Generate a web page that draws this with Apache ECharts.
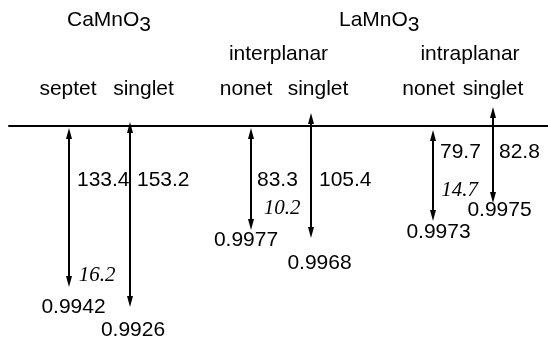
<!DOCTYPE html>
<html>
<head>
<meta charset="utf-8">
<script src="https://cdn.jsdelivr.net/npm/echarts@6/dist/echarts.min.js"></script>
<style>
html,body{margin:0;padding:0;background:#fff;}
#mychart{width:548px;height:339px;}
</style>
</head>
<body>
<div id="mychart"></div>
<script>
// levels, left to right: CaMnO3 | LaMnO3 interplanar | LaMnO3 intraplanar
var compounds = ['CaMnO', 'LaMnO'];
var planes = ['interplanar', 'intraplanar'];
var levelNames = ['septet', 'singlet', 'nonet', 'singlet', 'nonet', 'singlet'];
var energies = [133.4, 153.2, 83.3, 105.4, 79.7, 82.8];
var overlaps = ['0.9942', '0.9926', '0.9977', '0.9968', '0.9973', '0.9975'];
var splittings = [16.2, 10.2, 14.7];
var arrowTop = [-2, 4, -2, 13, -4, 19];
var arrowBottom = [-161, -181, -104, -112, -95, -77];

// layout (axis units)
var arrowX = [69, 130, 251, 311, 433, 493];
var compoundX = [67, 339], compoundY = 106;
var planeX = [278.5, 470], planeY = 71.5;
var levelX = [68, 143.5, 246, 318, 428.5, 493], levelY = 37;
var energyX = [77, 137, 257, 319, 440, 499];
var energyY = [-54.5, -54.5, -54.5, -54.5, -26.5, -26.5];
var overlapX = [73.5, 133, 246, 319.5, 438.5, 499.5];
var overlapY = [-181, -204.5, -114, -137.5, -106.5, -84.5];
var splitX = [97, 282, 459.5], splitY = [-149, -82, -64];

var sans = '21px "Liberation Sans", Arial, Helvetica, sans-serif';
var serifIt = 'italic 21px "Liberation Serif", "Times New Roman", serif';

var myChart = echarts.init(document.getElementById('mychart'), null, {renderer: 'canvas'});

var arrowData = [];
for (var i = 0; i < arrowX.length; i++) {
    arrowData.push([arrowX[i], arrowTop[i], arrowBottom[i]]);
}

// every text piece of the figure, placed through the axes
var texts = [];
compounds.forEach(function (c, i) {
    texts.push({x: compoundX[i], y: compoundY, text: '{m|' + c + '}{s|3}', rich: true, align: 'left'});
});
planes.forEach(function (p, i) {
    texts.push({x: planeX[i], y: planeY, text: p, align: 'center'});
});
levelNames.forEach(function (n, i) {
    texts.push({x: levelX[i], y: levelY, text: n, align: 'center'});
});
energies.forEach(function (e, i) {
    texts.push({x: energyX[i], y: energyY[i], text: e.toFixed(1), align: 'left'});
});
overlaps.forEach(function (o, i) {
    texts.push({x: overlapX[i], y: overlapY[i], text: o, align: 'center'});
});
splittings.forEach(function (s, i) {
    texts.push({x: splitX[i], y: splitY[i], text: s.toFixed(1), align: 'center', italic: true});
});

function renderArrow(params, api) {
    var p1 = api.coord([api.value(0), api.value(1)]);
    var p2 = api.coord([api.value(0), api.value(2)]);
    var hl = 11, hw = 3;
    return {
        type: 'group',
        children: [{
            type: 'line',
            shape: {x1: p1[0], y1: p1[1] + hl - 1, x2: p2[0], y2: p2[1] - hl + 1},
            style: {stroke: '#000', lineWidth: 2}
        }, {
            type: 'polygon',
            shape: {points: [[p1[0], p1[1]], [p1[0] - hw, p1[1] + hl], [p1[0] + hw, p1[1] + hl]]},
            style: {fill: '#000'}
        }, {
            type: 'polygon',
            shape: {points: [[p2[0], p2[1]], [p2[0] - hw, p2[1] - hl], [p2[0] + hw, p2[1] - hl]]},
            style: {fill: '#000'}
        }]
    };
}

function renderText(params, api) {
    var t = texts[params.dataIndex];
    var p = api.coord([t.x, t.y]);
    var style = {
        text: t.text,
        fill: '#000',
        font: t.italic ? serifIt : sans,
        align: t.align,
        verticalAlign: 'middle'
    };
    if (t.rich) {
        style.rich = {
            m: {font: sans, fill: '#000'},
            s: {font: sans, fill: '#000', padding: [10, 0, 0, 0]}
        };
    }
    return {type: 'text', x: p[0], y: p[1], style: style};
}

option = {
    animation: false,
    backgroundColor: '#fff',
    grid: {left: 9, right: 0, top: 0, bottom: 0},
    xAxis: {
        type: 'value',
        min: 9,
        max: 548,
        axisLine: {show: true, onZero: true, lineStyle: {color: '#000', width: 2}},
        axisTick: {show: false},
        axisLabel: {show: false},
        splitLine: {show: false}
    },
    yAxis: {
        type: 'value',
        min: -213,
        max: 126,
        show: false,
        splitLine: {show: false}
    },
    series: [{
        type: 'custom',
        name: 'levels',
        clip: false,
        renderItem: renderArrow,
        data: arrowData,
        z: 3
    }, {
        type: 'custom',
        name: 'texts',
        clip: false,
        renderItem: renderText,
        data: texts.map(function (t) { return [t.x, t.y]; }),
        z: 4
    }]
};

if (option && typeof option === "object") {
    myChart.setOption(option, true);
}
</script>
</body>
</html>
